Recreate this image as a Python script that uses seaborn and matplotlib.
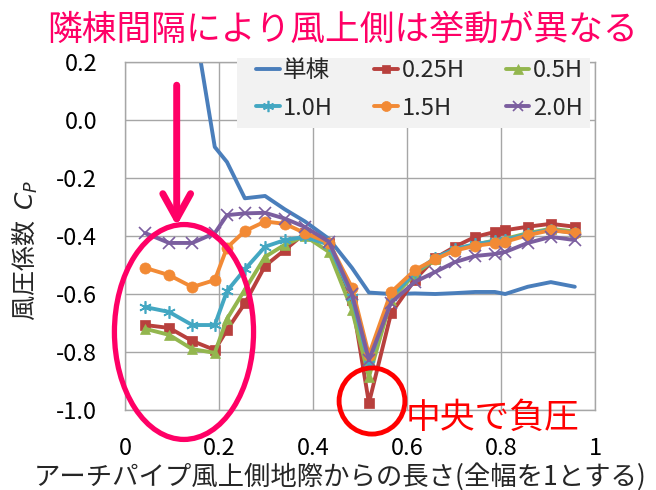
import matplotlib
matplotlib.use('Agg')
import matplotlib.pyplot as plt
import seaborn as sns
import pandas as pd
from matplotlib.patches import Ellipse, Rectangle
from matplotlib.lines import Line2D

# distance from windward ground contact (full width = 1)
pos = [0.043, 0.094, 0.143, 0.191, 0.217, 0.255, 0.298, 0.340, 0.383, 0.434, 0.483,
       0.519, 0.566, 0.617, 0.660, 0.702, 0.745, 0.787, 0.809, 0.857, 0.906, 0.957]

single = [0.80, 0.60, 0.38, -0.093, -0.145, -0.270, -0.262, -0.308, -0.350, -0.410, -0.510,
          -0.595, -0.600, -0.598, -0.600, -0.597, -0.593, -0.593, -0.600, -0.575, -0.559, -0.575]
h025 = [-0.707, -0.717, -0.762, -0.793, -0.724, -0.632, -0.503, -0.448, -0.390, -0.424, -0.620,
        -0.976, -0.667, -0.550, -0.476, -0.437, -0.403, -0.386, -0.380, -0.368, -0.358, -0.368]
h05 = [-0.720, -0.741, -0.790, -0.803, -0.686, -0.585, -0.472, -0.430, -0.400, -0.455, -0.655,
       -0.886, -0.620, -0.530, -0.480, -0.445, -0.430, -0.415, -0.410, -0.390, -0.375, -0.385]
h10 = [-0.645, -0.662, -0.707, -0.707, -0.590, -0.515, -0.437, -0.414, -0.403, -0.430, -0.610,
       -0.840, -0.610, -0.525, -0.475, -0.445, -0.428, -0.418, -0.413, -0.393, -0.378, -0.390]
h15 = [-0.510, -0.535, -0.576, -0.552, -0.440, -0.383, -0.350, -0.358, -0.390, -0.423, -0.578,
       -0.810, -0.594, -0.517, -0.480, -0.450, -0.434, -0.425, -0.420, -0.397, -0.380, -0.390]
h20 = [-0.390, -0.424, -0.424, -0.390, -0.328, -0.322, -0.320, -0.340, -0.369, -0.420, -0.600,
       -0.828, -0.630, -0.558, -0.524, -0.490, -0.469, -0.462, -0.455, -0.424, -0.403, -0.414]

names = ['単棟', '0.25H', '0.5H', '1.0H', '1.5H', '2.0H']
values = [single, h025, h05, h10, h15, h20]
colors = ['#4A7EBB', '#B8403D', '#93B64E', '#43A7C2', '#F28A35', '#7B5E9F']
markers = [None, 's', '^', (6, 2, 0), 'o', 'x']
msizes = [0, 7, 7.5, 9, 8, 8]

xtick_vals = [0, 0.2, 0.4, 0.6, 0.8, 1.0]
xtick_labels = ['0', '0.2', '0.4', '0.6', '0.8', '1']
ytick_vals = [-1.0, -0.8, -0.6, -0.4, -0.2, 0.0, 0.2]
ytick_labels = ['-1.0', '-0.8', '-0.6', '-0.4', '-0.2', '0.0', '0.2']

sns.set_theme(style='white')
plt.rcParams['font.family'] = ['Noto Sans CJK JP', 'DejaVu Sans']
plt.rcParams['mathtext.fontset'] = 'dejavusans'

fig = plt.figure(figsize=(6.56, 4.9), dpi=100)
ax = fig.add_axes([125 / 656, 1 - 410 / 490, 470 / 656, 348 / 490])

handles = []
for name, vals, c, m, ms in zip(names, values, colors, markers, msizes):
    df = pd.DataFrame({'x': pos, 'cp': vals})
    mew = 1.2 if m in ('x', (6, 2, 0)) else 0.5
    sns.lineplot(data=df, x='x', y='cp', ax=ax, color=c, lw=2.8, sort=False,
                 marker=m, markersize=ms, markeredgecolor=c, markeredgewidth=mew,
                 label=None, legend=False)
    handles.append(Line2D([], [], color=c, lw=2.8, marker=m, markersize=ms * 0.9,
                          markeredgecolor=c, markeredgewidth=mew))

ax.set_xlim(0, 1)
ax.set_ylim(-1.0, 0.2)
ax.set_xticks(xtick_vals)
ax.set_xticklabels(xtick_labels)
ax.set_yticks(ytick_vals)
ax.set_yticklabels(ytick_labels)
ax.set_xlabel('')
ax.set_ylabel('')
ax.grid(True, color='#A6A6A6', lw=1)
for s in ax.spines.values():
    s.set_color('#A6A6A6')
    s.set_linewidth(1)
ax.tick_params(axis='both', direction='out', length=5, color='#A6A6A6',
               labelsize=17, labelcolor='black')
ax.tick_params(axis='x', pad=14.5)
ax.tick_params(axis='y', pad=15)

# legend box background
ax.add_patch(Rectangle((237 / 656, 1 - 128 / 490), 353 / 656, 70 / 490,
                       transform=fig.transFigure, facecolor='#F2F2F2', edgecolor='none',
                       clip_on=False, zorder=9))
order = [0, 3, 1, 4, 2, 5]
leg = ax.legend([handles[i] for i in order], [names[i] for i in order], ncol=3,
                loc='upper left', bbox_to_anchor=(256 / 656, 1 - 59 / 490),
                bbox_transform=fig.transFigure, fontsize=17, handlelength=1.0,
                handletextpad=0.15, columnspacing=1.75, borderaxespad=0, borderpad=0,
                labelspacing=0.62, frameon=False)
leg.set_zorder(10)

# annotations
pink = '#FF0066'
ax.add_patch(Ellipse((0.1255, -0.731), 0.296, 0.741, fill=False, ec=pink, lw=3.8,
                     clip_on=False, zorder=6))
ax.add_patch(Ellipse((0.5255, -0.969), 0.14, 0.228, fill=False, ec='#FF0000', lw=3.5,
                     clip_on=False, zorder=6))
ax.annotate('', xy=(0.11, -0.365), xytext=(0.11, 0.12),
            arrowprops=dict(arrowstyle='->,head_length=0.9,head_width=0.5', color=pink,
                            lw=5, mutation_scale=20, shrinkA=0, shrinkB=0),
            zorder=6)

fig.text(343 / 656, 1 - 30 / 490, '隣棟間隔により風上側は挙動が異なる', color=pink,
         fontsize=25, ha='center', va='center')
fig.text(493 / 656, 1 - 418 / 490, '中央で負圧', color='#FF0000', fontsize=25,
         ha='center', va='center')
fig.text(340 / 656, 1 - 477 / 490, 'アーチパイプ風上側地際からの長さ(全幅を1とする)',
         fontsize=19, ha='center', va='center')
fig.text(25 / 656, 1 - 250 / 490, '風圧係数  $C_P$', fontsize=18, rotation=90,
         ha='center', va='center')

fig.savefig('out.png', dpi=100)
